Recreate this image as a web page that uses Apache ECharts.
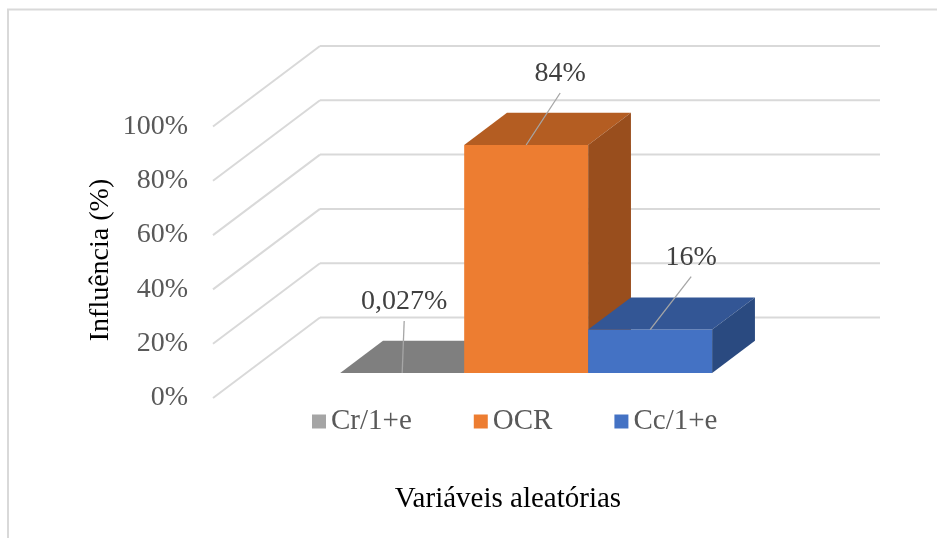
<!DOCTYPE html>
<html>
<head>
<meta charset="utf-8">
<script src="https://cdn.jsdelivr.net/npm/echarts@6/dist/echarts.min.js"></script>
<style>
  html, body { margin: 0; padding: 0; background: #fff; }
  #chart { width: 937px; height: 538px; }
</style>
</head>
<body>
<div id="chart"></div>
<script>
const seriesNames = ['Cr/1+e', 'OCR', 'Cc/1+e'];
const seriesValues = [0.027, 84, 16];
const yTicks = [0, 20, 40, 60, 80, 100];
const categories = [''];

const FONT = "'Liberation Serif', 'Times New Roman', serif";
// front, top, side face of each bar
const faceColors = [
  ['#a5a5a5', '#7f7f7f', '#6e6e6e'],
  ['#ed7d31', '#b45d22', '#994e1d'],
  ['#4472c4', '#335695', '#2a4a80']
];
// end of the leader line, relative to the middle of the bar's top front edge
const labelOffsets = [[2, -52], [34, -52], [41, -53]];

const depth = [107, -80.5];  // front plane -> back wall, in pixels
const barZ = [0.31, 0.71];   // bars sit between these depths
const barFrac = 0.2214;      // bar width / category band

function shift(p, z) {
  return [p[0] + depth[0] * z, p[1] + depth[1] * z];
}

function renderWalls(params, api) {
  const c = api.coord([0, api.value(1)]);
  const band = api.size([1, 0])[0];
  const left = [c[0] - band / 2, c[1]];
  const right = [c[0] + band / 2, c[1]];
  const bl = shift(left, 1), br = shift(right, 1);
  const style = { stroke: '#d9d9d9', lineWidth: 2, fill: null };
  return {
    type: 'group',
    children: [
      { type: 'line', shape: { x1: left[0], y1: left[1], x2: bl[0], y2: bl[1] }, style: style },
      { type: 'line', shape: { x1: bl[0], y1: bl[1], x2: br[0], y2: br[1] }, style: style }
    ]
  };
}

function makeBar(i) {
  return function (params, api) {
    const base = api.coord([api.value(0), 0]);
    const top = api.coord([api.value(0), api.value(1)]);
    const band = api.size([1, 0])[0];
    const w = band * barFrac;
    const x0 = base[0] + (i - 1) * w - w / 2;
    const x1 = x0 + w;
    const f = barZ[0], b = barZ[1];
    const fbl = shift([x0, base[1]], f), fbr = shift([x1, base[1]], f);
    const ftl = shift([x0, top[1]], f), ftr = shift([x1, top[1]], f);
    const btl = shift([x0, top[1]], b), btr = shift([x1, top[1]], b);
    const bbr = shift([x1, base[1]], b);
    const col = faceColors[i];
    const mid = [(ftl[0] + ftr[0]) / 2, ftl[1]];
    const end = [mid[0] + labelOffsets[i][0], mid[1] + labelOffsets[i][1]];
    const txt = String(api.value(1)).replace('.', ',') + '%';
    return {
      type: 'group',
      children: [
        { type: 'polygon', shape: { points: [fbl, fbr, ftr, ftl] }, style: { fill: col[0] } },
        { type: 'polygon', shape: { points: [ftl, ftr, btr, btl] }, style: { fill: col[1] } },
        { type: 'polygon', shape: { points: [fbr, bbr, btr, ftr] }, style: { fill: col[2] } },
        { type: 'line', shape: { x1: mid[0], y1: mid[1], x2: end[0], y2: end[1] },
          style: { stroke: '#a6a6a6', lineWidth: 1.3, fill: null } },
        { type: 'text', x: end[0], y: end[1] - 19,
          style: { text: txt, fontSize: 28, fontFamily: FONT, fill: '#404040',
                   align: 'center', verticalAlign: 'middle' } }
      ]
    };
  };
}

const chart = echarts.init(document.getElementById('chart'));

const series = [{
  type: 'custom',
  z: 1,
  silent: true,
  renderItem: renderWalls,
  data: yTicks.map(v => [0, v])
}];
seriesNames.forEach((name, i) => {
  series.push({
    type: 'custom',
    name: name,
    z: 2 + i,
    renderItem: makeBar(i),
    itemStyle: { color: faceColors[i][0] },
    data: [[0, seriesValues[i]]]
  });
});

chart.setOption({
  animation: false,
  grid: { left: 213, right: 164, top: 126.5, bottom: 140 },
  xAxis: {
    type: 'category',
    data: categories,
    axisLine: { show: false },
    axisTick: { show: false },
    axisLabel: { show: false }
  },
  yAxis: {
    type: 'value',
    min: yTicks[0],
    max: yTicks[yTicks.length - 1],
    interval: 20,
    splitLine: { show: false },
    axisLine: { show: false },
    axisTick: { show: false },
    axisLabel: {
      formatter: '{value}%',
      margin: 25,
      fontSize: 28,
      fontFamily: FONT,
      color: '#595959'
    }
  },
  legend: {
    data: seriesNames,
    left: 307,
    top: 402,
    icon: 'rect',
    itemWidth: 14,
    itemHeight: 14,
    itemGap: 62,
    textStyle: { fontSize: 29, fontFamily: FONT, color: '#595959' }
  },
  graphic: [
    { type: 'rect', shape: { x: 8, y: 9.5, width: 1000, height: 600 },
      style: { fill: null, stroke: '#d9d9d9', lineWidth: 2 }, silent: true },
    { type: 'text', x: 101, y: 260, rotation: Math.PI / 2,
      style: { text: 'Influência (%)', fontSize: 28, fontFamily: FONT, fill: '#000',
               align: 'center', verticalAlign: 'middle' } },
    { type: 'text', x: 508, y: 499,
      style: { text: 'Variáveis aleatórias', fontSize: 29, fontFamily: FONT, fill: '#000',
               align: 'center', verticalAlign: 'middle' } }
  ],
  series: series
});
</script>
</body>
</html>
